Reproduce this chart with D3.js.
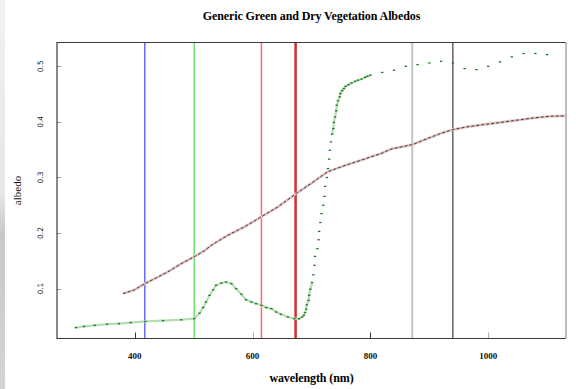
<!DOCTYPE html>
<html>
<head>
<meta charset="utf-8">
<script src="https://cdn.jsdelivr.net/npm/d3@7"></script>
<style>
  html, body { margin: 0; padding: 0; background: #ffffff; }
  svg { display: block; }
</style>
</head>
<body>
<svg id="chart" width="576" height="389"></svg>
<script>
// Green vegetation reflectance: wavelength (nm) and albedo
const greenWavelength = [
  300, 314, 332, 353, 373, 393, 418, 448, 479, 501,
  510, 516, 521, 527, 533, 538, 547, 555, 564, 572,
  581, 589, 598, 606, 615, 623, 632, 640, 648, 660,
  671, 679, 684, 687,
  689, 691, 692, 695, 696, 698, 701, 703, 705, 706,
  710, 712, 713, 715, 717, 720, 722, 723, 726, 728,
  730, 731, 733, 735, 737, 738, 740, 742, 743, 745,
  748, 749, 752, 755, 758, 763, 768, 774, 779, 785,
  791, 795, 800,
  820, 840, 860, 880, 900, 920, 940, 960, 980, 1000,
  1020, 1040, 1060, 1080, 1100
];
const greenAlbedo = [
  0.030, 0.032, 0.034, 0.036, 0.037, 0.039, 0.041, 0.0425, 0.044, 0.046,
  0.056, 0.066, 0.076, 0.088, 0.098, 0.106, 0.110, 0.112, 0.109, 0.100,
  0.090, 0.080, 0.076, 0.073, 0.070, 0.066, 0.064, 0.058, 0.054, 0.049,
  0.046, 0.046, 0.049, 0.052,
  0.057, 0.063, 0.071, 0.079, 0.088, 0.099, 0.111, 0.125, 0.142, 0.158,
  0.172, 0.188, 0.203, 0.219, 0.235, 0.250, 0.266, 0.284, 0.300, 0.316,
  0.333, 0.349, 0.364, 0.378, 0.388, 0.399, 0.409, 0.420, 0.430, 0.438,
  0.445, 0.451, 0.456, 0.460, 0.464, 0.467, 0.470, 0.473, 0.475, 0.477,
  0.480, 0.482, 0.484,
  0.489, 0.493, 0.500, 0.503, 0.506, 0.509, 0.506, 0.496, 0.494, 0.500,
  0.508, 0.517, 0.523, 0.523, 0.521
];

// Dry vegetation reflectance
const dryWavelength = [
  380, 400, 417, 434, 456, 479, 502, 518, 530, 558,
  586, 616, 643, 674, 699, 727, 750, 767, 784, 801,
  818, 835, 871, 897, 919, 940, 964, 992, 1021, 1049,
  1077, 1105, 1140
];
const dryAlbedo = [
  0.091, 0.098, 0.109, 0.118, 0.130, 0.145, 0.158, 0.168, 0.178, 0.196,
  0.211, 0.230, 0.247, 0.271, 0.289, 0.310, 0.319, 0.325, 0.331, 0.337,
  0.343, 0.351, 0.359, 0.370, 0.379, 0.386, 0.391, 0.395, 0.399, 0.403,
  0.407, 0.410, 0.411
];

// Reference wavelengths marked across the plot
const markerWavelength = [417, 501, 615, 673, 871, 940];
const markerColor = ["#6a6aff", "#6ee06e", "#ff6a6a", "#d32f2f", "#c4c4c4", "#1a1a1a"];
const markerWidth = [1.5, 1.5, 1.5, 2.5, 2, 1];

const xTicks = [400, 600, 800, 1000];
const yTicks = [0.1, 0.2, 0.3, 0.4, 0.5];

const titleText = "Generic Green and Dry Vegetation Albedos";
const xLabel = "wavelength (nm)";
const yLabel = "albedo";

// ---- layout ----
const svg = d3.select("#chart");
const plot = { left: 57, right: 566, top: 42.5, bottom: 338.5 };

// R-style 4% padding around the data range
const xMin = 300, xMax = 1100;
const yMin = 0.030, yMax = 0.523;
const xPad = (xMax - xMin) * 0.04, yPad = (yMax - yMin) * 0.04;

const x = d3.scaleLinear().domain([xMin - xPad, xMax + xPad]).range([plot.left, plot.right]);
const y = d3.scaleLinear().domain([yMin - yPad, yMax + yPad]).range([plot.bottom, plot.top]);
const crisp = v => Math.round(v) + 0.5;

// faint grey strip along the left edge
const defs = svg.append("defs");
const grad = defs.append("linearGradient").attr("id", "edge").attr("x1", 0).attr("y1", 0).attr("x2", 0).attr("y2", 1);
grad.append("stop").attr("offset", "0%").attr("stop-color", "#f2f2f0");
grad.append("stop").attr("offset", "50%").attr("stop-color", "#e6e6e4");
grad.append("stop").attr("offset", "60%").attr("stop-color", "#c8c8c8");
grad.append("stop").attr("offset", "100%").attr("stop-color", "#d4d4d4");
svg.append("rect").attr("x", 0).attr("y", 0).attr("width", 5).attr("height", 389).attr("fill", "url(#edge)");

defs.append("clipPath").attr("id", "plotClip")
  .append("rect")
  .attr("x", plot.left).attr("y", plot.top)
  .attr("width", plot.right - plot.left).attr("height", plot.bottom - plot.top);

const inner = svg.append("g").attr("clip-path", "url(#plotClip)");

// vertical marker lines
inner.selectAll("line.marker")
  .data(markerWavelength)
  .join("line")
  .attr("class", "marker")
  .attr("x1", d => x(d)).attr("x2", d => x(d))
  .attr("y1", plot.top).attr("y2", plot.bottom)
  .attr("stroke", (d, i) => markerColor[i])
  .attr("stroke-width", (d, i) => markerWidth[i]);

// dry vegetation curve
const dryPts = dryWavelength.map((w, i) => [w, dryAlbedo[i]]);
const dryLine = d3.line().x(d => x(d[0])).y(d => y(d[1]));
inner.append("path").attr("d", dryLine(dryPts))
  .attr("fill", "none").attr("stroke", "#dcc3c3").attr("stroke-width", 2.6);
inner.append("path").attr("d", dryLine(dryPts))
  .attr("fill", "none").attr("stroke", "#4a2424").attr("stroke-width", 0.9)
  .attr("stroke-dasharray", "3,2");

// green vegetation: samples below 800 nm joined where neighbours sit close in albedo
const greenPts = greenWavelength.map((w, i) => [w, greenAlbedo[i]]);
const segs = d3.pairs(greenPts)
  .filter(([a, b]) => b[0] <= 800 && Math.abs(y(a[1]) - y(b[1])) < 7);
inner.selectAll("line.gseg")
  .data(segs)
  .join("line")
  .attr("class", "gseg")
  .attr("x1", d => x(d[0][0])).attr("y1", d => y(d[0][1]))
  .attr("x2", d => x(d[1][0])).attr("y2", d => y(d[1][1]))
  .attr("stroke", "#b6dcb6").attr("stroke-width", 2.2).attr("stroke-linecap", "round");

inner.selectAll("rect.gpt")
  .data(greenPts)
  .join("rect")
  .attr("class", "gpt")
  .attr("x", d => x(d[0]) - 1.2).attr("y", d => y(d[1]) - 0.6)
  .attr("width", 2.4).attr("height", 1.3)
  .attr("fill", "#1f7a1f");

// ticks (drawn inward)
svg.selectAll("line.xt")
  .data(xTicks)
  .join("line")
  .attr("class", "xt")
  .attr("x1", d => crisp(x(d))).attr("x2", d => crisp(x(d)))
  .attr("y1", plot.bottom).attr("y2", plot.bottom - 6)
  .attr("stroke", (d, i) => i % 2 ? "#b0b0b0" : "#333").attr("stroke-width", 1);

svg.selectAll("line.yt")
  .data(yTicks)
  .join("line")
  .attr("class", "yt")
  .attr("x1", plot.left).attr("x2", plot.left + 4)
  .attr("y1", d => crisp(y(d))).attr("y2", d => crisp(y(d)))
  .attr("stroke", "#9a9a9a").attr("stroke-width", 1);

// frame
svg.append("path")
  .attr("d", `M${plot.right},${plot.top}H${plot.left}V${plot.bottom}H${plot.right}`)
  .attr("fill", "none").attr("stroke", "#3a3a3a").attr("stroke-width", 1.2);
svg.append("line")
  .attr("x1", plot.right).attr("x2", plot.right)
  .attr("y1", plot.top).attr("y2", plot.bottom)
  .attr("stroke", "#bcbcbc").attr("stroke-width", 2);

// tick labels
svg.selectAll("text.xl")
  .data(xTicks)
  .join("text")
  .attr("class", "xl")
  .attr("x", d => x(d)).attr("y", 358.5)
  .attr("text-anchor", "middle")
  .attr("font-family", "Liberation Serif, serif").attr("font-weight", "bold")
  .attr("font-size", 9).attr("fill", "#111")
  .text(d => d);

svg.selectAll("text.yl")
  .data(yTicks)
  .join("text")
  .attr("class", "yl")
  .attr("transform", d => `translate(43,${y(d)}) rotate(-90)`)
  .attr("text-anchor", "middle")
  .attr("font-family", "DejaVu Sans, sans-serif")
  .attr("font-size", 7.5).attr("fill", "#222")
  .text(d => d.toFixed(1));

// titles
svg.append("text")
  .attr("x", (plot.left + plot.right) / 2).attr("y", 19.5)
  .attr("text-anchor", "middle")
  .attr("font-family", "Liberation Serif, serif").attr("font-weight", "bold")
  .attr("font-size", 12).attr("letter-spacing", -0.1).attr("fill", "#000")
  .text(titleText);

svg.append("text")
  .attr("x", (plot.left + plot.right) / 2).attr("y", 382)
  .attr("text-anchor", "middle")
  .attr("font-family", "Liberation Serif, serif").attr("font-weight", "bold")
  .attr("font-size", 12).attr("letter-spacing", -0.1).attr("fill", "#000")
  .text(xLabel);

svg.append("text")
  .attr("transform", `translate(21,${(plot.top + plot.bottom) / 2}) rotate(-90)`)
  .attr("text-anchor", "middle")
  .attr("font-family", "Liberation Serif, serif")
  .attr("font-size", 11).attr("fill", "#111")
  .text(yLabel);
</script>
</body>
</html>
